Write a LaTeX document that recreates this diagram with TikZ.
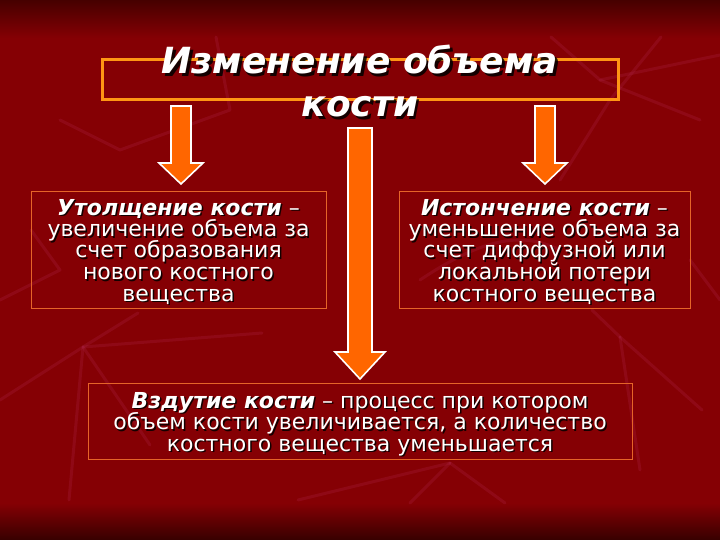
\documentclass[tikz,border=0pt]{standalone}
\usepackage{fontspec}
\setmainfont{DejaVu Sans}
\definecolor{bgred}{RGB}{133,0,4}
\definecolor{bgtop}{RGB}{70,0,0}
\definecolor{bgbot}{RGB}{55,0,0}
\definecolor{crack}{RGB}{170,35,70}
\definecolor{titleor}{RGB}{255,150,20}
\definecolor{boxor}{RGB}{230,100,40}
\definecolor{arrowor}{RGB}{255,102,0}
% #1 style, #2 shadow offset, #3 name, #4 position, #5 text
\newcommand\shline[5]{%
  \node[anchor=base, text=black, opacity=0.85, xshift=#2, yshift=-#2, #1] (#3s) at (#4) {#5};
  \node[anchor=base, text=white, #1] (#3) at (#4) {#5};}
\begin{document}
\begin{tikzpicture}[x=1pt,y=-1pt,
  bodytext/.style={font=\fontsize{22}{24}\selectfont, inner sep=0pt},
  titletext/.style={font=\fontsize{36}{40}\selectfont\bfseries\itshape, inner sep=0pt},
  defbox/.style={draw=boxor, line width=0.8pt, inner sep=0pt},
  titlebox/.style={draw=titleor, line width=3pt, inner sep=0pt},
  blockarrow/.style={fill=arrowor, draw=white, line width=1.6pt, line join=miter},
  crackline/.style={draw=crack, line width=3pt, opacity=0.28, line cap=round, line join=round}]
\useasboundingbox (0,0) rectangle (720,540);
% background
\fill[bgred] (0,0) rectangle (720,540);
\shade[top color=bgtop, bottom color=bgred] (0,0) rectangle (720,38);
\shade[top color=bgred, bottom color=bgbot] (0,503) rectangle (720,540);
% faint cracks
\begin{scope}[crackline]
\draw (0,400) -- (83,347) -- (262,333);
\draw (83,347) -- (138,313);
\draw (83,347) -- (69,500);
\draw (83,347) -- (150,445);
\draw (620,337) -- (702,410);
\draw (620,337) -- (592,310);
\draw (620,337) -- (640,470);
\draw (450,463) -- (298,500);
\draw (450,463) -- (505,503);
\draw (450,463) -- (410,503);
\draw (216,37) -- (230,110) -- (120,150) -- (60,120);
\draw (551,37) -- (600,80) -- (720,55);
\draw (661,37) -- (610,100) -- (560,180);
\draw (600,80) -- (700,120);
\draw (0,300) -- (60,270) -- (31,230);
\draw (690,260) -- (720,300);
\draw (420,280) .. controls (480,240) and (520,230) .. (560,250);
\end{scope}
% title box
\node[titlebox, minimum width=516pt, minimum height=40pt] (tb) at (360,80) {};
% arrows
\draw[blockarrow] (171,106) -- (191,106) -- (191,163) -- (203,163) -- (181,184)
  -- (159,163) -- (171,163) -- cycle;
\draw[blockarrow] (535,106) -- (555,106) -- (555,163) -- (567,163) -- (545,184)
  -- (523,163) -- (535,163) -- cycle;
\draw[blockarrow] (348,128) -- (372,128) -- (372,352) -- (385,352) -- (360,379)
  -- (335,352) -- (348,352) -- cycle;
% definition boxes
\node[defbox, minimum width=295pt, minimum height=117pt] (lb) at (178.5,249.5) {};
\node[defbox, minimum width=291pt, minimum height=117pt] (rb) at (544.5,249.5) {};
\node[defbox, minimum width=544pt, minimum height=76pt] (bb) at (360,421) {};
% title text
\shline{titletext}{2.6pt}{t1}{360,74}{Изменение объема}
\shline{titletext}{2.6pt}{t2}{360,117}{кости}
% left box text
\shline{bodytext}{1.5pt}{l1}{178.5,215}{\textbf{\textit{Утолщение кости}} –}
\shline{bodytext}{1.5pt}{l2}{178.5,236.5}{увеличение объема за}
\shline{bodytext}{1.5pt}{l3}{178.5,258}{счет образования}
\shline{bodytext}{1.5pt}{l4}{178.5,279.5}{нового костного}
\shline{bodytext}{1.5pt}{l5}{178.5,301}{вещества}
% right box text
\shline{bodytext}{1.5pt}{r1}{544.5,215}{\textbf{\textit{Истончение кости}} –}
\shline{bodytext}{1.5pt}{r2}{544.5,236.5}{уменьшение объема за}
\shline{bodytext}{1.5pt}{r3}{544.5,258}{счет диффузной или}
\shline{bodytext}{1.5pt}{r4}{544.5,279.5}{локальной потери}
\shline{bodytext}{1.5pt}{r5}{544.5,301}{костного вещества}
% bottom box text
\shline{bodytext}{1.5pt}{b1}{360,408}{\textbf{\textit{Вздутие кости}} – процесс при котором}
\shline{bodytext}{1.5pt}{b2}{360,429.5}{объем кости увеличивается, а количество}
\shline{bodytext}{1.5pt}{b3}{360,451}{костного вещества уменьшается}
\end{tikzpicture}
\end{document}
